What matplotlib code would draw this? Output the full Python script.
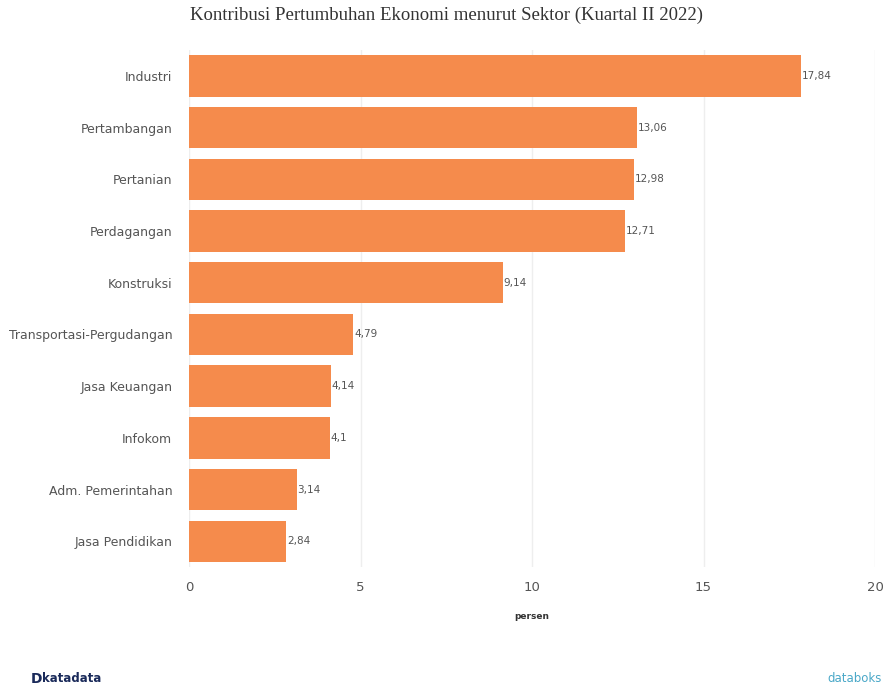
import matplotlib.pyplot as plt

sectors = [
    "Industri",
    "Pertambangan",
    "Pertanian",
    "Perdagangan",
    "Konstruksi",
    "Transportasi-Pergudangan",
    "Jasa Keuangan",
    "Infokom",
    "Adm. Pemerintahan",
    "Jasa Pendidikan",
]
values = [17.84, 13.06, 12.98, 12.71, 9.14, 4.79, 4.14, 4.1, 3.14, 2.84]
x_ticks = [0, 5, 10, 15, 20]

bar_color = "#F58B4C"

fig = plt.figure(figsize=(8.85, 6.9), dpi=100)
ax = fig.add_axes([0.2136, 0.178, 0.7751, 0.7495])

ypos = list(range(len(sectors)))
ax.barh(ypos, values, height=0.8, color=bar_color, zorder=2)

for y, v in zip(ypos, values):
    label = f"{v:g}".replace(".", ",")
    ax.text(v + 0.02, y, label, va="center", ha="left", fontsize=7.5,
            color="#555555", family="DejaVu Sans")

ax.set_ylim(len(sectors) - 0.5, -0.5)
ax.set_yticks(ypos)
ax.set_yticklabels(sectors, fontsize=9, color="#555555")
ax.set_xlim(0, 20)
ax.set_xticks(x_ticks)
ax.set_xticklabels([str(t) for t in x_ticks], fontsize=9.5, color="#555555")
ax.tick_params(axis="both", length=0)
ax.tick_params(axis="y", pad=12)
ax.tick_params(axis="x", pad=10)
ax.grid(axis="x", color="#eeeeee", linewidth=1, zorder=0)
for s in ax.spines.values():
    s.set_visible(False)

ax.set_xlabel("persen", fontsize=6.5, fontweight="bold", color="#333333", labelpad=13)

fig.text(0.505, 0.978, "Kontribusi Pertumbuhan Ekonomi menurut Sektor (Kuartal II 2022)",
         ha="center", va="center", fontsize=13.5, family="Liberation Serif",
         color="#333333")

# footer logos as text
fig.text(0.035, 0.016, "D", ha="left", va="center", fontsize=10, fontweight="bold",
         color="#1a2a5a")
fig.text(0.048, 0.016, "katadata", ha="left", va="center", fontsize=8.5,
         fontweight="bold", color="#1a2a5a")
fig.text(0.935, 0.016, "databoks", ha="left", va="center", fontsize=8.5,
         color="#4aa8c8")

fig.savefig("out.png", dpi=100, facecolor="white")
